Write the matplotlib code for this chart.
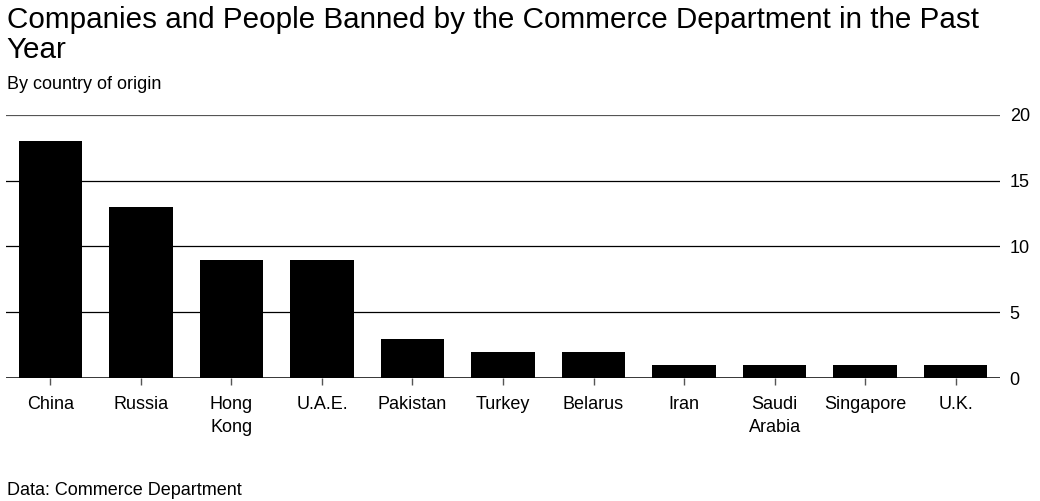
import matplotlib.pyplot as plt

plt.rcParams['font.family'] = ['Liberation Sans', 'DejaVu Sans']

countries = ["China", "Russia", "Hong\nKong", "U.A.E.", "Pakistan", "Turkey",
             "Belarus", "Iran", "Saudi\nArabia", "Singapore", "U.K."]
banned = [18, 13, 9, 9, 3, 2, 2, 1, 1, 1, 1]
y_ticks = [0, 5, 10, 15, 20]

fig = plt.figure(figsize=(10.4, 5.01), dpi=100)
ax = fig.add_axes([0.0058, 0.2455, 0.9557, 0.525])

x = list(range(len(countries)))
ax.bar(x, banned, width=0.7, color='black', zorder=3)

# horizontal grid lines
for t in y_ticks[1:-1]:
    ax.axhline(t, color='black', linewidth=0.9, zorder=1)
ax.axhline(20, color='#555555', linewidth=1.6, zorder=1)
ax.axhline(0, color='black', linewidth=1.1, zorder=4)

ax.set_xlim(-0.49, 10.49)
ax.set_ylim(0, 20)
ax.set_xticks(x)
ax.set_xticklabels(countries, fontsize=13, linespacing=1.45)
ax.tick_params(axis='x', length=5, width=1, color='#555555', pad=8)
ax.yaxis.tick_right()
ax.set_yticks(y_ticks)
ax.set_yticklabels([str(t) for t in y_ticks], fontsize=13)
ax.tick_params(axis='y', length=0, pad=7)
for s in ax.spines.values():
    s.set_visible(False)

fig.text(0.0065, 0.884, "Companies and People Banned by the Commerce Department in the Past\nYear",
         fontsize=21.3, ha='left', va='baseline', linespacing=1.1)
fig.text(0.0065, 0.822, "By country of origin", fontsize=13, ha='left', va='baseline')
fig.text(0.0065, 0.012, "Data: Commerce Department", fontsize=13, ha='left', va='baseline')

plt.savefig("out.png", dpi=100)
plt.close()
